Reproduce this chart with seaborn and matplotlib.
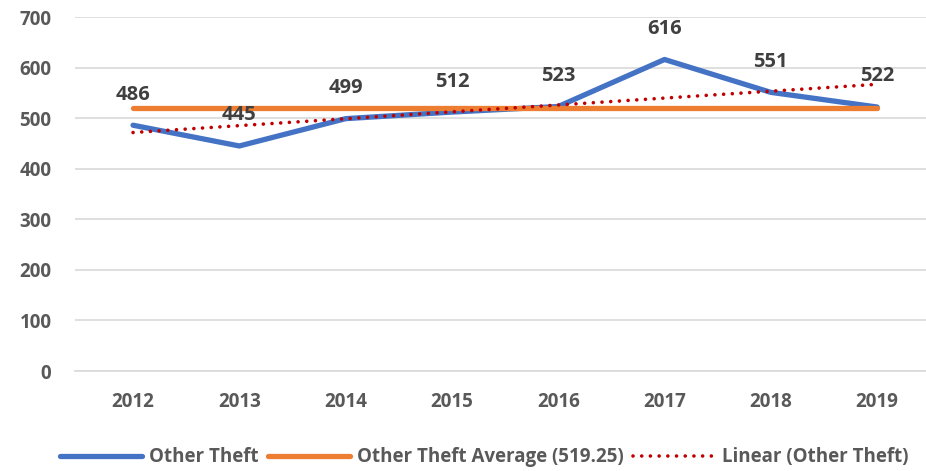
import numpy as np
import pandas as pd
import matplotlib
matplotlib.use("Agg")
import matplotlib.pyplot as plt
import seaborn as sns

years = ["2012", "2013", "2014", "2015", "2016", "2017", "2018", "2019"]
other_theft = [486, 445, 499, 512, 523, 616, 551, 522]
y_ticks = [0, 100, 200, 300, 400, 500, 600, 700]

sns.set_style("white")
plt.rcParams["font.family"] = ["Open Sans", "DejaVu Sans"]

x = np.arange(len(years))
avg = np.mean(other_theft)
slope, intercept = np.polyfit(x, other_theft, 1)

df = pd.DataFrame({
    "x": x,
    "theft": other_theft,
    "avg": [avg] * len(x),
    "trend": intercept + slope * x,
})

fig = plt.figure(figsize=(9.26, 4.71), dpi=100)
ax = fig.add_axes([0.081, 0.2123, 0.919, 0.7516])

sns.lineplot(data=df, x="x", y="theft", ax=ax, color="#4472C4", linewidth=3.8,
             label="Other Theft", solid_capstyle="round")
sns.lineplot(data=df, x="x", y="avg", ax=ax, color="#ED7D31", linewidth=3.8,
             label=f"Other Theft Average ({avg:.2f})", solid_capstyle="round")
sns.lineplot(data=df, x="x", y="trend", ax=ax, color="#C00000", linewidth=2.6,
             label="Linear (Other Theft)", linestyle=(0, (0.01, 2.4)), dash_capstyle="round")

for xi, v in zip(x, other_theft):
    ax.annotate(str(v), (xi, v), xytext=(0, 22), textcoords="offset points",
                ha="center", va="center", fontsize=14.5, fontweight="bold", color="#404040")

ax.set_xlim(-0.546, 7.46)
ax.set_ylim(0, 700)
ax.set_yticks(y_ticks)
ax.set_xticks(x)
ax.set_xticklabels(years)
ax.set_xlabel("")
ax.set_ylabel("")
ax.grid(axis="y", color="#D9D9D9", linewidth=1.2)
ax.set_axisbelow(True)
for s in ["top", "right", "left"]:
    ax.spines[s].set_visible(False)
ax.spines["bottom"].set_color("#D9D9D9")
ax.spines["bottom"].set_linewidth(1.2)
ax.tick_params(axis="both", length=0, labelsize=13.5, labelcolor="#595959")
ax.tick_params(axis="x", pad=15)
ax.tick_params(axis="y", pad=17)
for lab in ax.get_xticklabels() + ax.get_yticklabels():
    lab.set_fontweight("bold")

ax.legend_.remove()
h, l = ax.get_legend_handles_labels()
leg = fig.legend(h, l, loc="lower center", bbox_to_anchor=(0.523, -0.028), ncol=3,
                 frameon=False, handlelength=4.4, columnspacing=0.5, handletextpad=0.35,
                 prop={"size": 13.5, "weight": "bold"})
for t in leg.get_texts():
    t.set_color("#595959")

plt.savefig("out.png", dpi=100)
plt.close()
